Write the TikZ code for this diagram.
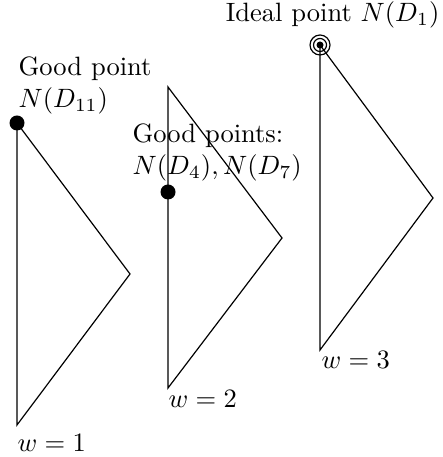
\documentclass[tikz,border=0pt]{standalone}
\usepackage{amsmath}
\usepackage{tikz}
\usetikzlibrary{positioning}

\tikzset{
  lbl/.style={inner sep=0pt, align=left},
  gooddot/.style={fill=black}
}

\begin{document}
\begin{tikzpicture}[x=0.377pt, y=-0.377pt, line width=0.45pt]
  \useasboundingbox (0,0) rectangle (442,457);
  % w = 1
  \coordinate (top1) at (17,123);
  \coordinate (tip1) at (130,274);
  \coordinate (bot1) at (17,425);
  \draw (top1) -- (tip1) -- (bot1) -- cycle;
  % w = 2
  \coordinate (top2) at (168,87);
  \coordinate (tip2) at (282,238);
  \coordinate (bot2) at (168,388);
  \draw (top2) -- (tip2) -- (bot2) -- cycle;
  % w = 3
  \coordinate (top3) at (320,45);
  \coordinate (tip3) at (433,198);
  \coordinate (bot3) at (320,350);
  \draw (top3) -- (tip3) -- (bot3) -- cycle;
  % good and ideal points
  \coordinate (pt2) at (168,192);
  \fill[gooddot] (top1) circle[radius=7.5];
  \fill[gooddot] (pt2) circle[radius=7.5];
  \draw (top3) circle[radius=10];
  \draw (top3) circle[radius=6.5];
  \fill[gooddot] (top3) circle[radius=3.5];
  % labels
  \node[lbl, anchor=north west] (good1) at (18,56) {Good point\\$N(D_{11})$};
  \node[lbl, anchor=north west] (good2) at (132,123) {Good points:\\$N(D_4), N(D_7)$};
  \node[lbl, anchor=base east] (ideal) at (440,22) {Ideal point $N(D_1)$};
  \node[lbl, anchor=base west] (w1) at (17,451) {$w=1$};
  \node[lbl, anchor=base west] (w2) at (168,407) {$w=2$};
  \node[lbl, anchor=base west] (w3) at (321,368) {$w=3$};
\end{tikzpicture}
\end{document}
